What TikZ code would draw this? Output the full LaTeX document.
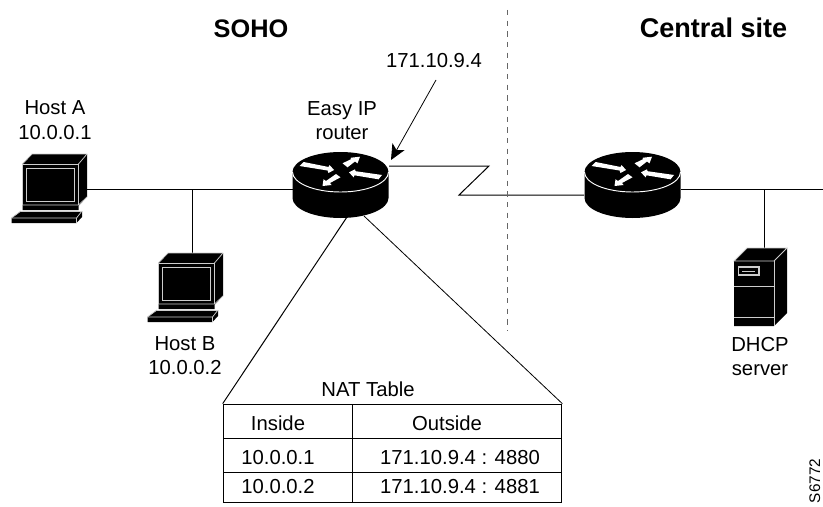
\documentclass[tikz,border=0pt]{standalone}
\usepackage{fontspec}
\setmainfont{Liberation Sans}
\usetikzlibrary{arrows.meta}
\tikzset{
  lab/.style={inner sep=0pt,anchor=base,align=center,font=\fontsize{15.2}{18}\selectfont},
  head/.style={inner sep=0pt,anchor=base,font=\fontsize{19}{22}\selectfont\bfseries},
  conn/.style={draw=black,line width=0.75pt},
  hair/.style={draw=black,line width=0.6pt},
  wl/.style={draw=white!80!black,line width=0.55pt},
  pics/host/.style={code={
    \fill[black] (22.5,164)--(32,154)--(87,154)--(87,197)--(78.5,206)--(78.5,210)--(22.5,210)--cycle;
    \fill[black] (21,211)--(82,211)--(82,217)--(76.5,223)--(11.5,223)--(11.5,218)--cycle;
    \draw[wl] (22.5,164)--(32,154)--(87,154);
    \draw[wl] (87,154)--(78.5,164);
    \draw[wl] (22.5,164)--(78.5,164)--(78.5,205);
    \draw[wl] (22.5,164)--(22.5,205);
    \draw[wl] (22.5,205)--(78.5,205)--(87,197);
    \draw[wl] (26.5,168) rectangle (74,201);
    \draw[wl] (11.5,218)--(76.5,218)--(82,211);
    \draw[wl] (21,211)--(82,211);
    \draw[wl] (11.5,218)--(21,211);
    \draw[wl] (76.5,218)--(76.5,223);
  }},
  pics/router/.style={code={
    \fill[black] (-48,0) arc[start angle=180,end angle=360,x radius=48,y radius=20]
       -- (48,26) arc[start angle=0,end angle=180,x radius=48,y radius=20] -- cycle;
    \draw[white,line width=0.7pt] (-48,0) arc[start angle=180,end angle=0,x radius=48,y radius=20];
    \fill[white] (-41,-6)--(-37,-10)--(-12,-5)--(-11,-7)--(-6.5,-2)--(-12,1)--(-13,-1.5)--cycle;
    \fill[white] (19.5,-15.3)--(17,-8.7)--(14.5,-10.5)--(7,-4.7)--(2,-8.7)--(10,-12.5)--(10.5,-14.3)--cycle;
    \fill[white] (8.5,.3)--(14.5,-2.7)--(15,-.8)--(41.5,3)--(38,7.3)--(14,3.3)--(13,5.3)--cycle;
    \fill[white] (-18,14)--(-17,7.3)--(-14.5,9)--(-4.5,2)--(0,5.3)--(-10.5,11)--(-9,13)--cycle;
  }},
  pics/server/.style={code={
    \fill[black] (734,261)--(747,248)--(787,248)--(787,313)--(774,326)--(734,326)--cycle;
    \draw[wl] (734,261)--(747,248)--(787,248)--(774,261)--cycle;
    \draw[wl] (774,261)--(774,326);
    \draw[wl] (734,286)--(774,286);
    \draw[wl] (734,317)--(774,317);
    \draw[wl,line width=0.8pt] (738.5,267) rectangle (759,275);
    \draw[wl] (742,271)--(755,271);
  }}
}
\begin{document}
\begin{tikzpicture}[x=0.75pt,y=-0.75pt]
\useasboundingbox (0,0) rectangle (823,506);
\fill[white] (0,0) rectangle (823,506);

% named points
\coordinate (hostAport) at (87,189);
\coordinate (routerLw) at (293,189);
\coordinate (tapB) at (192,189);
\coordinate (hostBtop) at (192,253);
\coordinate (routerLe) at (389,166);
\coordinate (zig1) at (489,166);
\coordinate (zig2) at (459,195);
\coordinate (routerRw) at (584,195);
\coordinate (routerRe) at (681,189);
\coordinate (lanEnd) at (823,189);
\coordinate (tapS) at (764,189);
\coordinate (serverTop) at (764,248);
\coordinate (ipStart) at (436,80);
\coordinate (ipTip) at (391,160);
\coordinate (divTop) at (507,10);
\coordinate (divBot) at (507,331);
\coordinate (zoomL) at (347,217);
\coordinate (zoomR) at (364,216);

% connectors
\draw[conn] (hostAport) -- (routerLw);
\draw[hair] (tapB) -- (hostBtop);
\draw[conn] (routerLe) -- (zig1) -- (zig2) -- (routerRw);
\draw[conn] (routerRe) -- (lanEnd);
\draw[hair] (tapS) -- (serverTop);
\draw[hair,-{Stealth[length=11.5pt,width=10.5pt,inset=3pt]}] (ipStart) -- (ipTip);
\draw[black!60,line width=0.75pt,dash pattern=on 4pt off 4pt] (divTop) -- (divBot);

% icons
\pic at (0,0) {host};
\pic at (136,99) {host};
\pic at (340.5,172) {router};
\pic at (632.5,172) {router};
\pic at (0,0) {server};

% NAT table
\node[draw=black,line width=0.75pt,minimum width=254pt,minimum height=74pt,inner sep=0pt] (tbl) at (392.5,453.5) {};
\coordinate (rowA) at (223,438);
\coordinate (rowB) at (223,472);
\coordinate (colT) at (352,404);
\coordinate (colB) at (352,503);
\draw[conn] (tbl.north west) -- (zoomL);
\draw[hair] (tbl.north east) -- (zoomR);
\draw[conn] (rowA) -- (rowA -| tbl.east);
\draw[conn] (rowB) -- (rowB -| tbl.east);
\draw[conn] (colT) -- (colB);

% labels
\node[head] (soho) at (251,38) {SOHO};
\node[head,font=\fontsize{20.3}{22}\selectfont\bfseries] (central) at (713.5,38) {Central site};
\node[lab] (ip) at (434,68) {171.10.9.4};
\node[lab] (easy) at (342,116) {Easy IP};
\node[lab] (rt) at (342,140) {router};
\node[lab] (hA1) at (55,115) {Host A};
\node[lab] (hA2) at (55,139) {10.0.0.1};
\node[lab] (hB1) at (185,350) {Host B};
\node[lab] (hB2) at (185,374) {10.0.0.2};
\node[lab] (dh1) at (760,351) {DHCP};
\node[lab] (dh2) at (760,375) {server};
\node[lab] (nat) at (368,396) {NAT Table};
\node[lab] (c1) at (278,430) {Inside};
\node[lab] (c2) at (447,430) {Outside};
\node[lab] (r1a) at (278,464) {10.0.0.1};
\node[lab] (r1b) at (460,464) {171.10.9.4 : 4880};
\node[lab] (r2a) at (278,493) {10.0.0.2};
\node[lab] (r2b) at (460,493) {171.10.9.4 : 4881};
\node[inner sep=0pt,anchor=base,rotate=90,font=\fontsize{11.5}{13}\selectfont] (id) at (820,481) {S6772};
\end{tikzpicture}
\end{document}
